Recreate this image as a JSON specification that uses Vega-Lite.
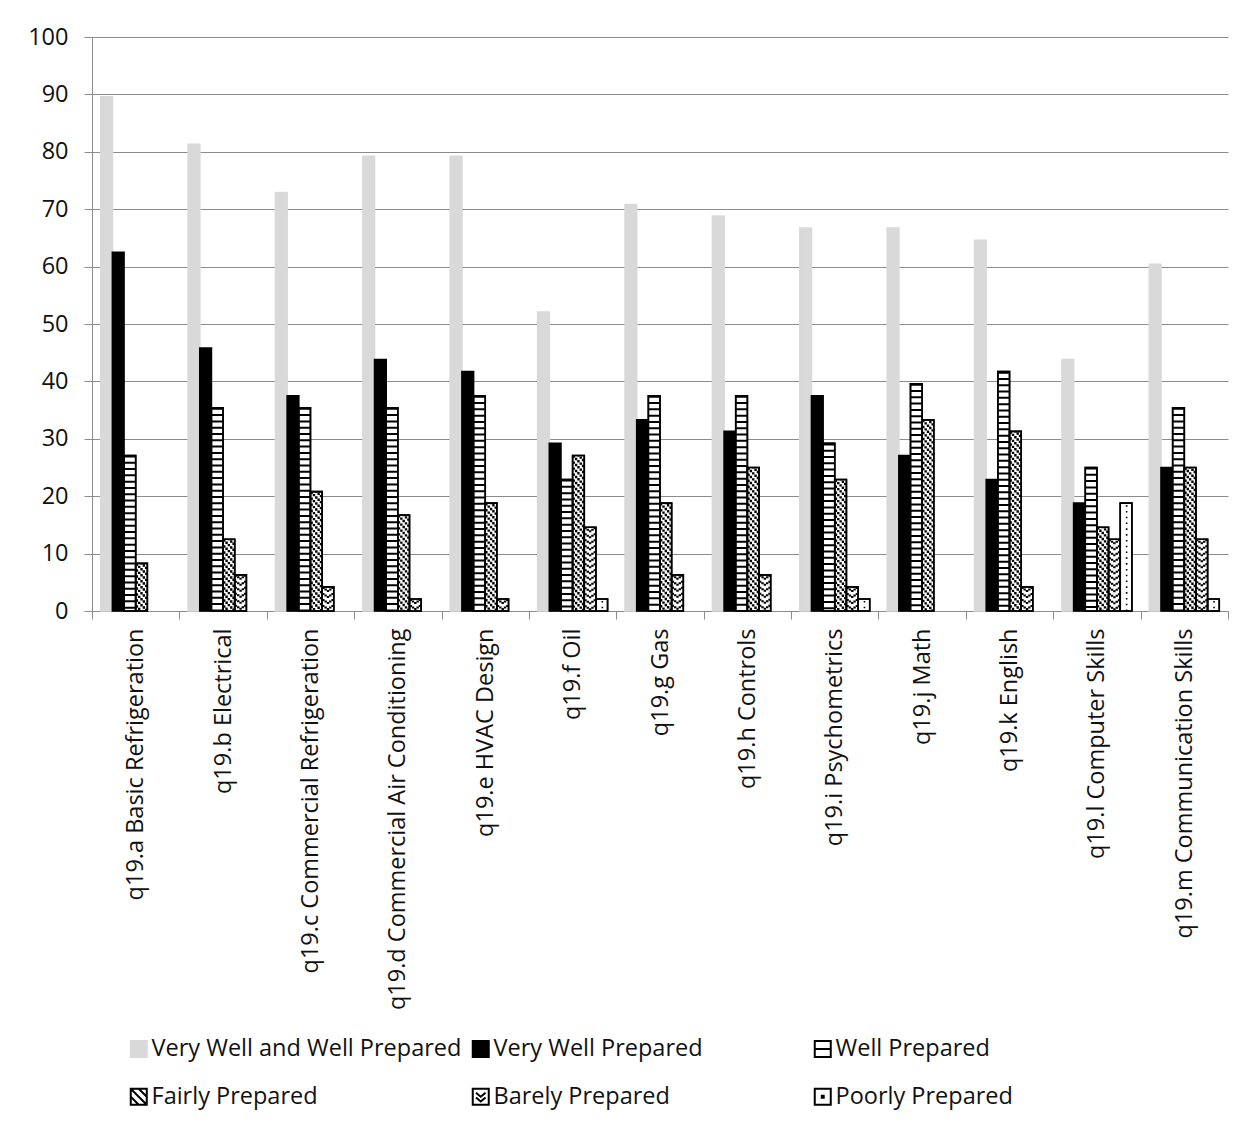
{
  "$schema": "https://vega.github.io/schema/vega-lite/v6.json",
  "width": 1136,
  "height": 574,
  "autosize": {"type": "none"},
  "padding": {"left": 92, "top": 37, "right": 28, "bottom": 518},
  "background": "white",
  "config": {
    "font": "Open Sans",
    "view": {"stroke": null},
    "axis": {"labelFont": "Open Sans", "labelColor": "#111111", "labelFontSize": 23.5, "title": null},
    "legend": {"labelFont": "Open Sans", "labelColor": "#111111"}
  },
  "data": {
    "values": [
      {"item": "q19.a Basic Refrigeration", "series": "Very Well and Well Prepared", "value": 89.6},
      {"item": "q19.a Basic Refrigeration", "series": "Very Well Prepared", "value": 62.5},
      {"item": "q19.a Basic Refrigeration", "series": "Well Prepared", "value": 27.1},
      {"item": "q19.a Basic Refrigeration", "series": "Fairly Prepared", "value": 8.3},

      {"item": "q19.b Electrical", "series": "Very Well and Well Prepared", "value": 81.3},
      {"item": "q19.b Electrical", "series": "Very Well Prepared", "value": 45.8},
      {"item": "q19.b Electrical", "series": "Well Prepared", "value": 35.4},
      {"item": "q19.b Electrical", "series": "Fairly Prepared", "value": 12.5},
      {"item": "q19.b Electrical", "series": "Barely Prepared", "value": 6.3},

      {"item": "q19.c Commercial Refrigeration", "series": "Very Well and Well Prepared", "value": 72.9},
      {"item": "q19.c Commercial Refrigeration", "series": "Very Well Prepared", "value": 37.5},
      {"item": "q19.c Commercial Refrigeration", "series": "Well Prepared", "value": 35.4},
      {"item": "q19.c Commercial Refrigeration", "series": "Fairly Prepared", "value": 20.8},
      {"item": "q19.c Commercial Refrigeration", "series": "Barely Prepared", "value": 4.2},

      {"item": "q19.d Commercial Air Conditioning", "series": "Very Well and Well Prepared", "value": 79.2},
      {"item": "q19.d Commercial Air Conditioning", "series": "Very Well Prepared", "value": 43.8},
      {"item": "q19.d Commercial Air Conditioning", "series": "Well Prepared", "value": 35.4},
      {"item": "q19.d Commercial Air Conditioning", "series": "Fairly Prepared", "value": 16.7},
      {"item": "q19.d Commercial Air Conditioning", "series": "Barely Prepared", "value": 2.1},

      {"item": "q19.e HVAC Design", "series": "Very Well and Well Prepared", "value": 79.2},
      {"item": "q19.e HVAC Design", "series": "Very Well Prepared", "value": 41.7},
      {"item": "q19.e HVAC Design", "series": "Well Prepared", "value": 37.5},
      {"item": "q19.e HVAC Design", "series": "Fairly Prepared", "value": 18.8},
      {"item": "q19.e HVAC Design", "series": "Barely Prepared", "value": 2.1},

      {"item": "q19.f Oil", "series": "Very Well and Well Prepared", "value": 52.1},
      {"item": "q19.f Oil", "series": "Very Well Prepared", "value": 29.2},
      {"item": "q19.f Oil", "series": "Well Prepared", "value": 22.9},
      {"item": "q19.f Oil", "series": "Fairly Prepared", "value": 27.1},
      {"item": "q19.f Oil", "series": "Barely Prepared", "value": 14.6},
      {"item": "q19.f Oil", "series": "Poorly Prepared", "value": 2.1},

      {"item": "q19.g Gas", "series": "Very Well and Well Prepared", "value": 70.8},
      {"item": "q19.g Gas", "series": "Very Well Prepared", "value": 33.3},
      {"item": "q19.g Gas", "series": "Well Prepared", "value": 37.5},
      {"item": "q19.g Gas", "series": "Fairly Prepared", "value": 18.8},
      {"item": "q19.g Gas", "series": "Barely Prepared", "value": 6.3},

      {"item": "q19.h Controls", "series": "Very Well and Well Prepared", "value": 68.8},
      {"item": "q19.h Controls", "series": "Very Well Prepared", "value": 31.3},
      {"item": "q19.h Controls", "series": "Well Prepared", "value": 37.5},
      {"item": "q19.h Controls", "series": "Fairly Prepared", "value": 25.0},
      {"item": "q19.h Controls", "series": "Barely Prepared", "value": 6.3},

      {"item": "q19.i Psychometrics", "series": "Very Well and Well Prepared", "value": 66.7},
      {"item": "q19.i Psychometrics", "series": "Very Well Prepared", "value": 37.5},
      {"item": "q19.i Psychometrics", "series": "Well Prepared", "value": 29.2},
      {"item": "q19.i Psychometrics", "series": "Fairly Prepared", "value": 22.9},
      {"item": "q19.i Psychometrics", "series": "Barely Prepared", "value": 4.2},
      {"item": "q19.i Psychometrics", "series": "Poorly Prepared", "value": 2.1},

      {"item": "q19.j Math", "series": "Very Well and Well Prepared", "value": 66.7},
      {"item": "q19.j Math", "series": "Very Well Prepared", "value": 27.1},
      {"item": "q19.j Math", "series": "Well Prepared", "value": 39.6},
      {"item": "q19.j Math", "series": "Fairly Prepared", "value": 33.3},

      {"item": "q19.k English", "series": "Very Well and Well Prepared", "value": 64.6},
      {"item": "q19.k English", "series": "Very Well Prepared", "value": 22.9},
      {"item": "q19.k English", "series": "Well Prepared", "value": 41.7},
      {"item": "q19.k English", "series": "Fairly Prepared", "value": 31.3},
      {"item": "q19.k English", "series": "Barely Prepared", "value": 4.2},

      {"item": "q19.l Computer Skills", "series": "Very Well and Well Prepared", "value": 43.8},
      {"item": "q19.l Computer Skills", "series": "Very Well Prepared", "value": 18.8},
      {"item": "q19.l Computer Skills", "series": "Well Prepared", "value": 25.0},
      {"item": "q19.l Computer Skills", "series": "Fairly Prepared", "value": 14.6},
      {"item": "q19.l Computer Skills", "series": "Barely Prepared", "value": 12.5},
      {"item": "q19.l Computer Skills", "series": "Poorly Prepared", "value": 18.8},

      {"item": "q19.m Communication Skills", "series": "Very Well and Well Prepared", "value": 60.4},
      {"item": "q19.m Communication Skills", "series": "Very Well Prepared", "value": 25.0},
      {"item": "q19.m Communication Skills", "series": "Well Prepared", "value": 35.4},
      {"item": "q19.m Communication Skills", "series": "Fairly Prepared", "value": 25.0},
      {"item": "q19.m Communication Skills", "series": "Barely Prepared", "value": 12.5},
      {"item": "q19.m Communication Skills", "series": "Poorly Prepared", "value": 2.1}
    ]
  },
  "encoding": {
    "x": {
      "field": "item", "type": "nominal", "sort": null,
      "scale": {"paddingInner": 0, "paddingOuter": 0},
      "axis": {
        "tickBand": "extent", "labelAngle": -90, "labelPadding": 9, "labelLimit": 400,
        "tickSize": 8, "tickColor": "#8c8c8c", "domainColor": "#8c8c8c", "grid": false
      }
    },
    "y": {
      "field": "value", "type": "quantitative",
      "scale": {"domain": [0, 100], "nice": false},
      "axis": {
        "values": [0, 10, 20, 30, 40, 50, 60, 70, 80, 90, 100],
        "grid": true, "gridColor": "#8c8c8c", "gridWidth": 1,
        "domainColor": "#8c8c8c", "tickColor": "#8c8c8c", "tickSize": 8, "labelPadding": 16
      }
    }
  },
  "layer": [
    {
      "mark": {"type": "bar", "strokeWidth": 1.6},
      "encoding": {
        "xOffset": {
          "field": "series", "type": "nominal",
          "scale": {
            "domain": ["Very Well and Well Prepared", "Very Well Prepared", "Well Prepared", "Fairly Prepared", "Barely Prepared", "Poorly Prepared"],
            "paddingInner": 0, "paddingOuter": 0.75
          }
        },
        "fill": {
          "field": "series", "type": "nominal",
          "scale": {
            "domain": ["Very Well and Well Prepared", "Very Well Prepared", "Well Prepared", "Fairly Prepared", "Barely Prepared", "Poorly Prepared"],
            "range": ["#d9d9d9", "#000000", "#ffffff", "#ffffff", "#ffffff", "#ffffff"]
          },
          "legend": {
            "orient": "none", "legendX": 35, "legendY": 1000, "direction": "horizontal",
            "columns": 3, "gridAlign": "all", "columnPadding": 6, "rowPadding": 23,
            "title": null, "padding": 0, "symbolSize": 256, "symbolStrokeWidth": 2,
            "labelFontSize": 23.5, "labelLimit": 400, "labelOffset": 1,
            "encode": {
              "symbols": {
                "update": {
                  "shape": {
                    "signal": "datum.value === 'Well Prepared' ? 'M-1,-1H1V1H-1Z M-1,0H1' : datum.value === 'Fairly Prepared' ? 'M-1,-1H1V1H-1Z M-1,-1L1,1 M-1,0L0,1 M0,-1L1,0' : datum.value === 'Barely Prepared' ? 'M-1,-1H1V1H-1Z M-0.6,-0.5L0,0L0.6,-0.5 M-0.6,0.1L0,0.6L0.6,0.1' : datum.value === 'Poorly Prepared' ? 'M-1,-1H1V1H-1Z M-0.12,-0.12H0.12V0.12H-0.12Z' : 'square'"
                  }
                }
              }
            }
          }
        },
        "stroke": {
          "field": "series", "type": "nominal",
          "scale": {
            "domain": ["Very Well and Well Prepared", "Very Well Prepared", "Well Prepared", "Fairly Prepared", "Barely Prepared", "Poorly Prepared"],
            "range": ["#d9d9d9", "#000000", "#000000", "#000000", "#000000", "#000000"]
          }
        }
      }
    },
    {
      "transform": [{"filter": "datum.series === 'Well Prepared'"}],
      "mark": {"type": "rule", "color": "#000000", "strokeWidth": 11, "strokeDash": [2, 4.3]},
      "encoding": {"x": {"field": "item", "type": "nominal", "sort": null, "bandPosition": 0.4333}, "y2": {"datum": 0}}
    },
    {
      "transform": [{"filter": "datum.series === 'Fairly Prepared'"}],
      "mark": {"type": "rule", "color": "#000000", "strokeWidth": 2.4, "strokeDash": [2.4, 3.6], "strokeDashOffset": 0},
      "encoding": {"x": {"field": "item", "type": "nominal", "sort": null, "bandPosition": 0.5133}, "y2": {"datum": 0}}
    },
    {
      "transform": [{"filter": "datum.series === 'Fairly Prepared'"}],
      "mark": {"type": "rule", "color": "#000000", "strokeWidth": 2.4, "strokeDash": [2.4, 3.6], "strokeDashOffset": 3.67},
      "encoding": {"x": {"field": "item", "type": "nominal", "sort": null, "bandPosition": 0.54}, "y2": {"datum": 0}}
    },
    {
      "transform": [{"filter": "datum.series === 'Fairly Prepared'"}],
      "mark": {"type": "rule", "color": "#000000", "strokeWidth": 2.4, "strokeDash": [2.4, 3.6], "strokeDashOffset": 1.33},
      "encoding": {"x": {"field": "item", "type": "nominal", "sort": null, "bandPosition": 0.5667}, "y2": {"datum": 0}}
    },
    {
      "transform": [{"filter": "datum.series === 'Fairly Prepared'"}],
      "mark": {"type": "rule", "color": "#000000", "strokeWidth": 2.4, "strokeDash": [2.4, 3.6], "strokeDashOffset": 5.0},
      "encoding": {"x": {"field": "item", "type": "nominal", "sort": null, "bandPosition": 0.5933}, "y2": {"datum": 0}}
    },
    {
      "transform": [{"filter": "datum.series === 'Fairly Prepared'"}],
      "mark": {"type": "rule", "color": "#000000", "strokeWidth": 2.4, "strokeDash": [2.4, 3.6], "strokeDashOffset": 2.67},
      "encoding": {"x": {"field": "item", "type": "nominal", "sort": null, "bandPosition": 0.62}, "y2": {"datum": 0}}
    },
    {
      "transform": [{"filter": "datum.series === 'Barely Prepared'"}],
      "mark": {"type": "rule", "color": "#000000", "strokeWidth": 2.4, "strokeDash": [2, 4], "strokeDashOffset": 0},
      "encoding": {"x": {"field": "item", "type": "nominal", "sort": null, "bandPosition": 0.6467}, "y2": {"datum": 0}}
    },
    {
      "transform": [{"filter": "datum.series === 'Barely Prepared'"}],
      "mark": {"type": "rule", "color": "#000000", "strokeWidth": 2.4, "strokeDash": [2, 4], "strokeDashOffset": 4.5},
      "encoding": {"x": {"field": "item", "type": "nominal", "sort": null, "bandPosition": 0.6733}, "y2": {"datum": 0}}
    },
    {
      "transform": [{"filter": "datum.series === 'Barely Prepared'"}],
      "mark": {"type": "rule", "color": "#000000", "strokeWidth": 2.4, "strokeDash": [2, 4], "strokeDashOffset": 3},
      "encoding": {"x": {"field": "item", "type": "nominal", "sort": null, "bandPosition": 0.7}, "y2": {"datum": 0}}
    },
    {
      "transform": [{"filter": "datum.series === 'Barely Prepared'"}],
      "mark": {"type": "rule", "color": "#000000", "strokeWidth": 2.4, "strokeDash": [2, 4], "strokeDashOffset": 4.5},
      "encoding": {"x": {"field": "item", "type": "nominal", "sort": null, "bandPosition": 0.7267}, "y2": {"datum": 0}}
    },
    {
      "transform": [{"filter": "datum.series === 'Barely Prepared'"}],
      "mark": {"type": "rule", "color": "#000000", "strokeWidth": 2.4, "strokeDash": [2, 4], "strokeDashOffset": 0},
      "encoding": {"x": {"field": "item", "type": "nominal", "sort": null, "bandPosition": 0.7533}, "y2": {"datum": 0}}
    },
    {
      "transform": [{"filter": "datum.series === 'Poorly Prepared'"}],
      "mark": {"type": "rule", "color": "#000000", "strokeWidth": 1.6, "strokeDash": [1.6, 4.2], "strokeDashOffset": -2},
      "encoding": {"x": {"field": "item", "type": "nominal", "sort": null, "bandPosition": 0.84}, "y2": {"datum": 0}}
    },
    {
      "transform": [{"filter": "datum.series !== 'Very Well and Well Prepared' && datum.series !== 'Very Well Prepared'"}],
      "mark": {"type": "bar", "fill": null, "fillOpacity": 0, "stroke": "#000000", "strokeWidth": 1.6},
      "encoding": {"xOffset": {"field": "series", "type": "nominal"}}
    }
  ]
}
